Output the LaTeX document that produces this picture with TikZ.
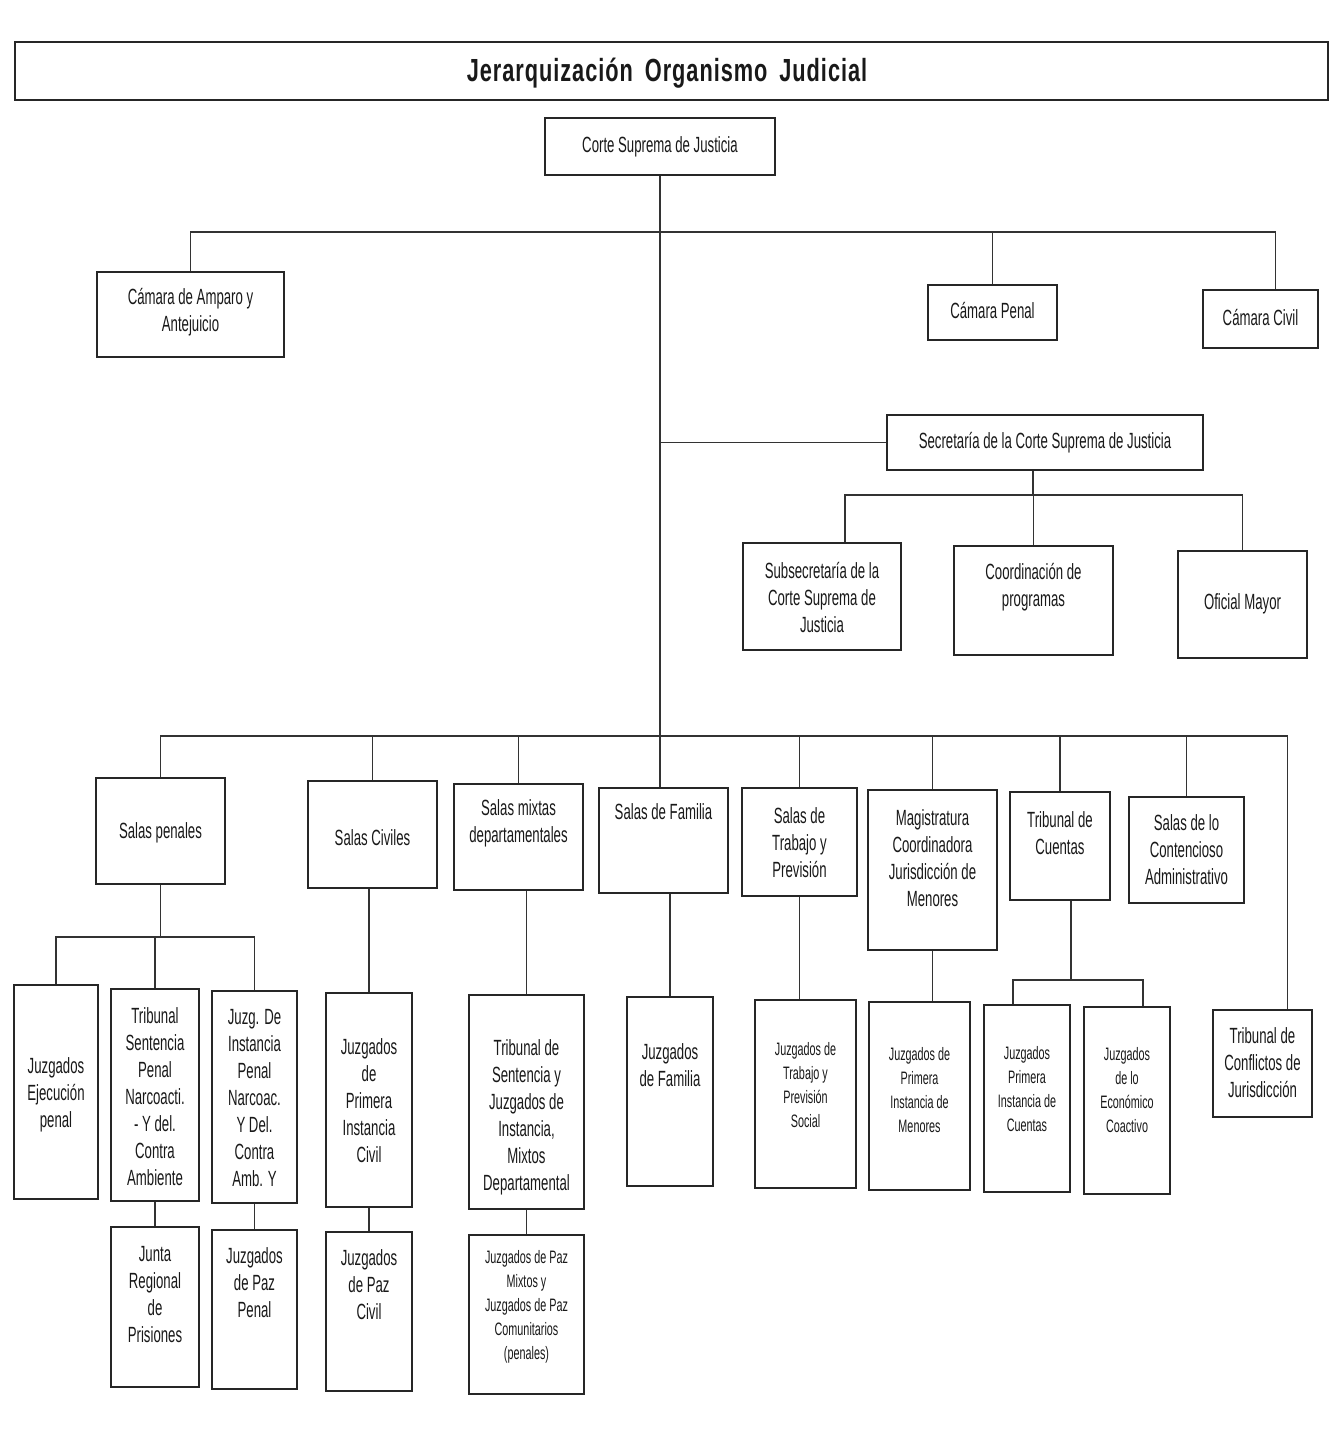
\documentclass[tikz,border=0pt]{standalone}
\usepackage{fontspec}
\setmainfont{Liberation Sans}[FakeStretch=0.6]
\newfontfamily\titlefont{Liberation Sans Bold}[FakeStretch=0.68,LetterSpace=3]
\usetikzlibrary{calc}
\tikzset{
  box/.style={draw=black!85, line width=1.9pt, fill=white, inner sep=0pt, rectangle},
  txt/.style={align=center, font=\fontsize{22}{27}\selectfont, text=black!90, inner sep=0pt},
  stxt/.style={align=center, font=\fontsize{18}{24}\selectfont, text=black!90, inner sep=0pt},
  con/.style={draw=black!80, line width=1.3pt},
}
% name, left, top, right, bottom, text-y, text style, text
\newcommand\bx[8]{%
  \node[box, minimum width={#4-#2}, minimum height={#5-#3}] (#1) at ({(#2+#4)/2},{(#3+#5)/2}) {};
  \node[#7] (#1-t) at ({(#2+#4)/2},#6) {#8};}
\begin{document}
\begin{tikzpicture}[x=1pt,y=-1pt]
\useasboundingbox[fill=white] (0,0) rectangle (1336,1433);

% title
\node[draw=black!85, line width=2.6pt, minimum width=1313, minimum height=58, inner sep=0pt] (title) at (671.5,71) {};
\node[font={\titlefont\fontsize{32}{36}\selectfont}, text=black!90, inner sep=0pt] (title-t) at (667,73) {Jerarquización\hspace{12pt}Organismo\hspace{12pt}Judicial};

% level 0-1
\bx{corte}{545}{118}{775}{175}{147}{txt}{Corte Suprema de Justicia}
\bx{amparo}{97}{272}{284}{357}{312}{txt}{Cámara de Amparo y\\Antejuicio}
\bx{penal}{928}{285}{1057}{340}{311}{txt}{Cámara Penal}
\bx{civil}{1203}{290}{1318}{348}{318}{txt}{Cámara Civil}
\bx{secre}{887}{415}{1203}{470}{443}{txt}{Secretaría de la Corte Suprema de Justicia}
\bx{sub}{743}{543}{901}{650}{597}{txt}{Subsecretaría de la\\Corte Suprema de\\Justicia}
\bx{coord}{954}{546}{1113}{655}{587}{txt}{Coordinación de\\programas}
\bx{oficial}{1178}{551}{1307}{658}{604}{txt}{Oficial Mayor}

% level 2
\bx{salpen}{96}{778}{225}{884}{833}{txt}{Salas penales}
\bx{salciv}{308}{781}{437}{888}{838}{txt}{Salas Civiles}
\bx{salmix}{454}{784}{583}{890}{823}{txt}{Salas mixtas\\departamentales}
\bx{salfam}{599}{788}{728}{893}{812}{txt}{Salas de Familia}
\bx{saltra}{742}{788}{857}{896}{843}{txt}{Salas de\\Trabajo y\\Previsión}
\bx{magis}{868}{790}{997}{950}{858}{txt}{Magistratura\\Coordinadora\\Jurisdicción de\\Menores}
\bx{tcuen}{1010}{792}{1110}{900}{833}{txt}{Tribunal de\\Cuentas}
\bx{salcon}{1129}{797}{1244}{903}{850}{txt}{Salas de lo\\Contencioso\\Administrativo}
\bx{tconf}{1213}{1010}{1312}{1117}{1063}{txt}{Tribunal de\\Conflictos de\\Jurisdicción}

% level 3
\bx{ejec}{14}{985}{98}{1199}{1095}{txt}{Juzgados\\Ejecución\\penal}
\bx{trib}{111}{989}{199}{1201}{1097}{txt}{Tribunal\\Sentencia\\Penal\\Narcoacti.\\- Y del.\\Contra\\Ambiente}
\bx{juzg}{212}{991}{297}{1203}{1098}{txt}{Juzg. De\\Instancia\\Penal\\Narcoac.\\Y Del.\\Contra\\Amb. Y}
\bx{junta}{111}{1227}{199}{1387}{1295}{txt}{Junta\\Regional\\de\\Prisiones}
\bx{pazpen}{212}{1230}{297}{1389}{1283}{txt}{Juzgados\\de Paz\\Penal}
\bx{jpic}{326}{993}{412}{1207}{1101}{txt}{Juzgados\\de\\Primera\\Instancia\\Civil}
\bx{pazciv}{326}{1232}{412}{1391}{1285}{txt}{Juzgados\\de Paz\\Civil}
\bx{tsmix}{469}{995}{584}{1209}{1117}{txt}{Tribunal de\\Sentencia y\\Juzgados de\\Instancia,\\Mixtos\\Departamental}
\bx{pazmix}{469}{1235}{584}{1394}{1307}{stxt}{Juzgados de Paz\\Mixtos y\\Juzgados de Paz\\Comunitarios\\(penales)}
\bx{jfam}{627}{997}{713}{1186}{1065}{txt}{Juzgados\\de Familia}
\bx{jtra}{755}{1000}{856}{1188}{1085}{stxt}{Juzgados de\\Trabajo y\\Previsión\\Social}
\bx{jmen}{869}{1002}{970}{1190}{1090}{stxt}{Juzgados de\\Primera\\Instancia de\\Menores}
\bx{jcue}{984}{1005}{1070}{1192}{1089}{stxt}{Juzgados\\Primera\\Instancia de\\Cuentas}
\bx{jeco}{1084}{1007}{1170}{1194}{1090}{stxt}{Juzgados\\de lo\\Económico\\Coactivo}

% connectors: top
\coordinate (b1) at (660,232);
\draw[con] (corte.south) -- (corte.south |- salfam.north);
\draw[con] (amparo.north) |- (b1);
\draw[con] (b1) -| ([xshift=15pt]civil.north);
\draw[con] (penal.north) -- (penal.north |- b1);
\draw[con] (secre.west) -- (secre.west -| corte.south);

% secretaria
\coordinate (b2) at (1033,495);
\draw[con] (b2 |- secre.south) -- (b2);
\draw[con] ([xshift=23pt]sub.north) |- (b2) -| (oficial.north);
\draw[con] (coord.north) -- (coord.north |- b2);

% bottom bus
\coordinate (b3) at (660,736);
\draw[con] (salpen.north) |- (b3) -| ([xshift=25pt]tconf.north);
\foreach \n in {salciv,salmix,saltra,magis,tcuen,salcon}
  \draw[con] (\n.north) -- (\n.north |- b3);

% salas penales
\coordinate (b4) at (160.5,937);
\draw[con] (salpen.south) -- (b4);
\draw[con] (ejec.north) |- (b4) -| (juzg.north);
\draw[con] (trib.north) -- (trib.north |- b4);
\draw[con] (trib.south) -- (junta.north);
\draw[con] (juzg.south) -- (pazpen.north);

% salas civiles, mixtas, familia
\draw[con] (jpic.north) -- (jpic.north |- salciv.south);
\draw[con] (jpic.south) -- (pazciv.north);
\draw[con] (tsmix.north) -- (tsmix.north |- salmix.south);
\draw[con] (tsmix.south) -- (pazmix.north);
\draw[con] (jfam.north) -- (jfam.north |- salfam.south);

% trabajo, menores
\draw[con] (saltra.south) -- (saltra.south |- jtra.north);
\draw[con] (magis.south) -- (magis.south |- jmen.north);

% cuentas
\coordinate (b5) at (1071,980);
\draw[con] (b5 |- tcuen.south) -- (b5);
\draw[con] ([xshift=-14pt]jcue.north) |- (b5) -| ([xshift=16pt]jeco.north);
\end{tikzpicture}
\end{document}
